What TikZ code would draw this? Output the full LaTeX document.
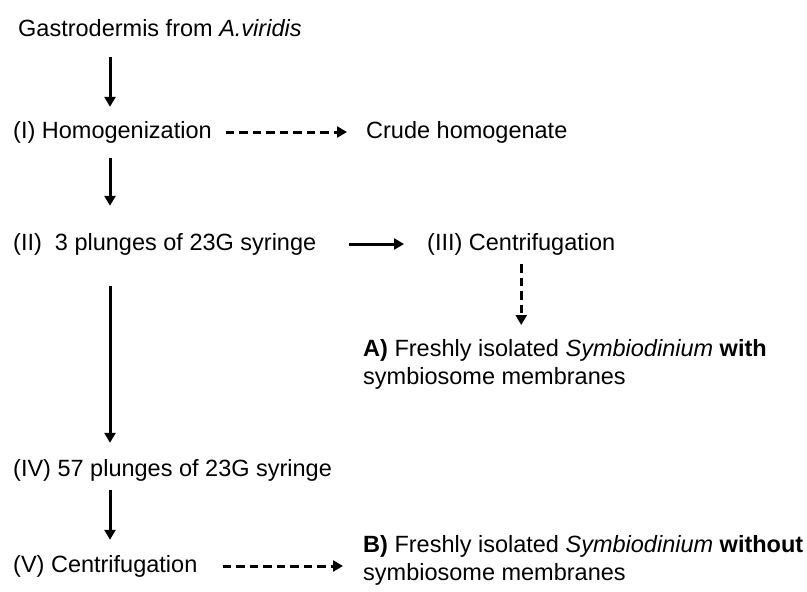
\documentclass[tikz,border=0pt]{standalone}
\usepackage{fontspec}
\setmainfont{Liberation Sans}
\usetikzlibrary{arrows.meta}

\begin{document}
\begin{tikzpicture}[x=1pt,y=-1pt,
    stage/.style={anchor=base west,inner sep=0pt,text height=16pt,text depth=4pt,font=\fontsize{23.5}{27}\selectfont},
    outcome/.style={anchor=north west,inner sep=0pt,align=left,font=\fontsize{23.5}{28}\selectfont},
    flow/.style={line width=3pt,-{Triangle[length=10pt,width=11pt]}},
    dashflow/.style={flow,dash pattern=on 8.5pt off 5pt}]
    \useasboundingbox (0,0) rectangle (807,592);

    % left column of steps
    \node[stage] (gastro) at (18,36) {Gastrodermis from \textit{A.viridis}};
    \node[stage] (homog) at (13,138) {(I) Homogenization};
    \node[stage] (plunge3) at (13,250) {(II)~ 3 plunges of 23G syringe};
    \node[stage] (plunge57) at (13,476) {(IV) 57 plunges of 23G syringe};
    \node[stage] (centB) at (13,572) {(V) Centrifugation};
    \coordinate (stem) at (110,0);

    % right hand side
    \node[stage] (crude) at (366,138) {Crude homogenate};
    \node[stage] (centA) at (427,250) {(III) Centrifugation};
    \node[outcome] (isoA) at (363,339) {\textbf{A)} Freshly isolated \textit{Symbiodinium} \textbf{with}\\symbiosome membranes};
    \node[outcome] (isoB) at (363,535) {\textbf{B)} Freshly isolated \textit{Symbiodinium} \textbf{without}\\symbiosome membranes};

    \draw[flow,shorten <=17pt,shorten >=15pt] (gastro.south -| stem) -- (homog.north -| stem);
    \draw[flow,shorten <=16pt,shorten >=28pt] (homog.south -| stem) -- (plunge3.north -| stem);
    \draw[flow,shorten <=32pt,shorten >=17pt] (plunge3.south -| stem) -- (plunge57.north -| stem);
    \draw[flow,shorten <=10pt,shorten >=16pt] (plunge57.south -| stem) -- (centB.north -| stem);

    \draw[dashflow,shorten <=14pt,shorten >=19pt] (homog.east) -- (crude.west);
    \draw[flow,shorten <=33pt,shorten >=23pt] (plunge3.east) -- (plunge3.east -| centA.west);
    \draw[dashflow,shorten <=10pt,shorten >=14pt] (centA.south) -- (centA.south |- isoA.north);
    \draw[dashflow,shorten <=25pt,shorten >=20pt] (centB.east) -- (centB.east -| isoB.west);
\end{tikzpicture}
\end{document}
